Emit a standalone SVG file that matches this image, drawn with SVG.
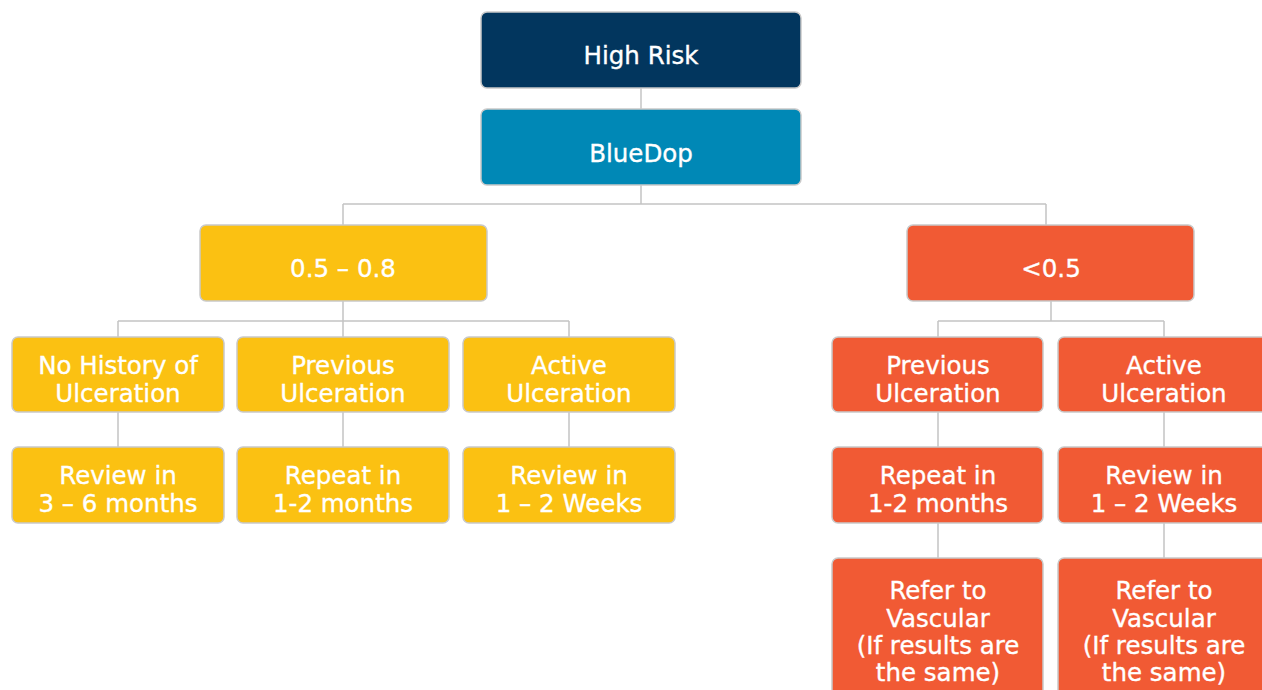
<svg xmlns="http://www.w3.org/2000/svg" width="1262" height="690" viewBox="0 0 1262 690">
  <style>
    .box { stroke: #c9c9c9; stroke-width: 1.5; }
    .navy { fill: #02365e; }
    .blue { fill: #0088b6; }
    .amber { fill: #fbc112; }
    .coral { fill: #f15a34; }
    .lbl { font-family: "DejaVu Sans", "Liberation Sans", sans-serif; font-size: 24.5px; fill: #ffffff; stroke: #ffffff; stroke-width: 0.35; text-anchor: middle; }
    .wire { fill: none; stroke: #c4c4c4; stroke-width: 1.5; }
  </style>
  <rect width="1262" height="690" fill="#ffffff"/>

  <!-- connectors -->
  <g id="connectors" class="wire">
    <path d="M641 88V109"/>
    <path d="M641 185V204M343 204H1046M343 204V225M1046 204V225"/>
    <path d="M343 301V321M118 321H569M118 321V337M343 321V337M569 321V337"/>
    <path d="M118 412V447M343 412V447M569 412V447"/>
    <path d="M1051 301V321M938 321H1164M938 321V337M1164 321V337"/>
    <path d="M938 412V447M1164 412V447"/>
    <path d="M938 523V558M1164 523V558"/>
  </g>

  <g id="high-risk">
    <rect class="box navy" x="481" y="12" width="320" height="76" rx="6"/>
    <text class="lbl" x="641" y="64">High Risk</text>
  </g>
  <g id="bluedop">
    <rect class="box blue" x="481" y="109" width="320" height="76" rx="6"/>
    <text class="lbl" x="641" y="162">BlueDop</text>
  </g>

  <g id="range-mid">
    <rect class="box amber" x="200" y="225" width="287" height="76" rx="6"/>
    <text class="lbl" x="343" y="277">0.5 – 0.8</text>
  </g>
  <g id="range-low">
    <rect class="box coral" x="907" y="225" width="287" height="76" rx="6"/>
    <text class="lbl" x="1051" y="277">&lt;0.5</text>
  </g>

  <g id="mid-no-history">
    <rect class="box amber" x="12" y="337" width="212" height="75" rx="6"/>
    <text class="lbl" x="118" y="374">No History of</text>
    <text class="lbl" x="118" y="402">Ulceration</text>
  </g>
  <g id="mid-previous">
    <rect class="box amber" x="237" y="337" width="212" height="75" rx="6"/>
    <text class="lbl" x="343" y="374">Previous</text>
    <text class="lbl" x="343" y="402">Ulceration</text>
  </g>
  <g id="mid-active">
    <rect class="box amber" x="463" y="337" width="212" height="75" rx="6"/>
    <text class="lbl" x="569" y="374">Active</text>
    <text class="lbl" x="569" y="402">Ulceration</text>
  </g>

  <g id="mid-no-history-action">
    <rect class="box amber" x="12" y="447" width="212" height="76" rx="6"/>
    <text class="lbl" x="118" y="484">Review in</text>
    <text class="lbl" x="118" y="512">3 – 6 months</text>
  </g>
  <g id="mid-previous-action">
    <rect class="box amber" x="237" y="447" width="212" height="76" rx="6"/>
    <text class="lbl" x="343" y="484">Repeat in</text>
    <text class="lbl" x="343" y="512">1-2 months</text>
  </g>
  <g id="mid-active-action">
    <rect class="box amber" x="463" y="447" width="212" height="76" rx="6"/>
    <text class="lbl" x="569" y="484">Review in</text>
    <text class="lbl" x="569" y="512">1 – 2 Weeks</text>
  </g>

  <g id="low-previous">
    <rect class="box coral" x="832" y="337" width="211" height="75" rx="6"/>
    <text class="lbl" x="938" y="374">Previous</text>
    <text class="lbl" x="938" y="402">Ulceration</text>
  </g>
  <g id="low-active">
    <rect class="box coral" x="1058" y="337" width="211" height="75" rx="6"/>
    <text class="lbl" x="1164" y="374">Active</text>
    <text class="lbl" x="1164" y="402">Ulceration</text>
  </g>

  <g id="low-previous-action">
    <rect class="box coral" x="832" y="447" width="211" height="76" rx="6"/>
    <text class="lbl" x="938" y="484">Repeat in</text>
    <text class="lbl" x="938" y="512">1-2 months</text>
  </g>
  <g id="low-active-action">
    <rect class="box coral" x="1058" y="447" width="211" height="76" rx="6"/>
    <text class="lbl" x="1164" y="484">Review in</text>
    <text class="lbl" x="1164" y="512">1 – 2 Weeks</text>
  </g>

  <g id="low-previous-refer">
    <rect class="box coral" x="832" y="558" width="211" height="150" rx="6"/>
    <text class="lbl" x="938" y="599">Refer to</text>
    <text class="lbl" x="938" y="627">Vascular</text>
    <text class="lbl" x="938" y="654">(If results are</text>
    <text class="lbl" x="938" y="681">the same)</text>
  </g>
  <g id="low-active-refer">
    <rect class="box coral" x="1058" y="558" width="211" height="150" rx="6"/>
    <text class="lbl" x="1164" y="599">Refer to</text>
    <text class="lbl" x="1164" y="627">Vascular</text>
    <text class="lbl" x="1164" y="654">(If results are</text>
    <text class="lbl" x="1164" y="681">the same)</text>
  </g>
</svg>
